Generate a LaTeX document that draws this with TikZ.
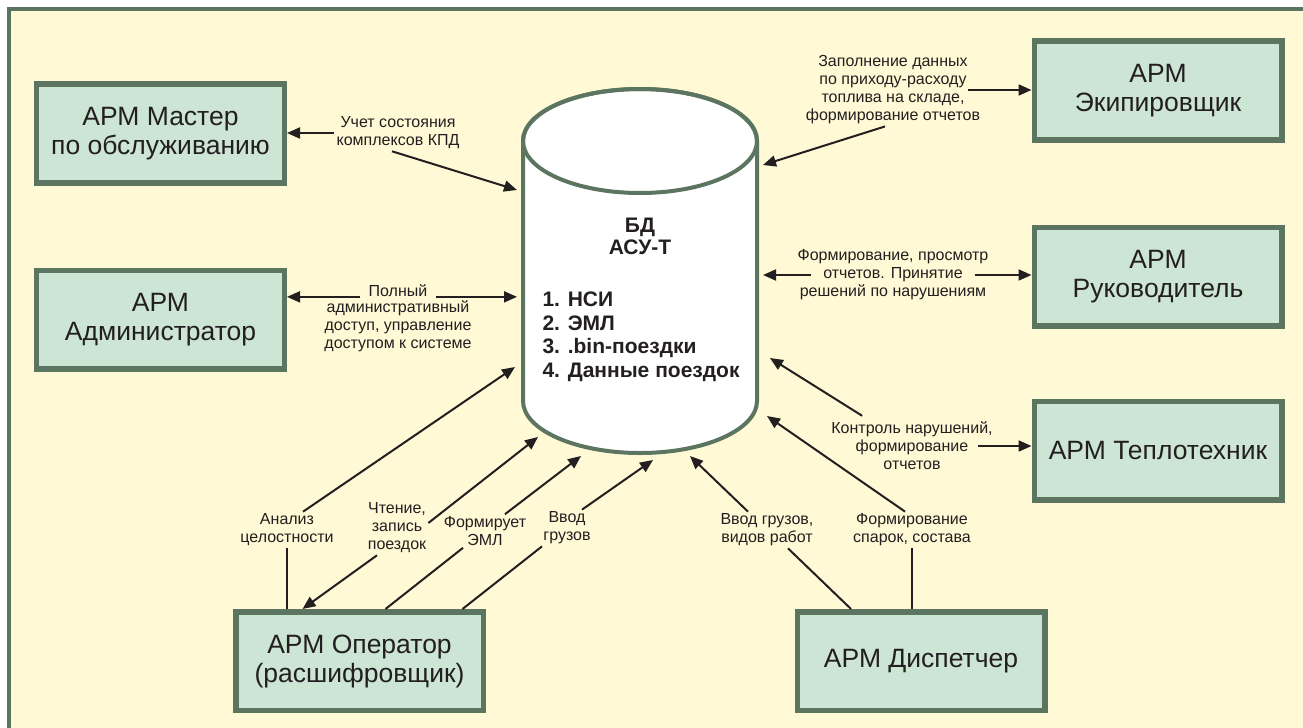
\documentclass[tikz,border=0pt]{standalone}
\usepackage{fontspec}
\setmainfont{Liberation Sans}
\usetikzlibrary{positioning,arrows.meta,calc}
\definecolor{fon}{HTML}{FFF9D5}
\definecolor{ramka}{HTML}{5B7560}
\definecolor{zaliv}{HTML}{CCE5D5}
\definecolor{chern}{HTML}{231F20}

\begin{document}
\begin{tikzpicture}[x=1bp, y=1bp, >={Triangle[length=13bp,width=11bp]},
      b/.style={draw=ramka, fill=zaliv, line width=5.5bp, minimum width=247.5bp,
                minimum height=98.5bp, align=center, text=chern,
                font=\fontsize{26.5bp}{29bp}\selectfont},
      lbl/.style={align=center, inner sep=2bp, text=chern,
                font=\fontsize{16bp}{18bp}\selectfont},
      lin/.style={draw=chern, line width=2bp}]
    \path[use as bounding box, clip] (0,0) rectangle (1303,-727);
    \fill[white] (0,0) rectangle (1303,-727);
    \fill[fon] (9,-9) rectangle (1306,-731);
    \draw[ramka, line width=4bp] (9,-9) rectangle (1304.5,-733);
    % БД
    \draw[ramka, line width=4bp, fill=white] (523,-141) -- (523,-401)
      arc[start angle=180, end angle=360, x radius=117, y radius=52] -- (757,-141)
      arc[start angle=0, end angle=180, x radius=117, y radius=52] -- cycle;
    \draw[ramka, line width=4bp] (640,-141) ellipse [x radius=117, y radius=52];
    \node[align=center, text=chern, font=\bfseries\fontsize{21bp}{22bp}\selectfont] (bd) at (640,-236) {БД\\АСУ-Т};
    \node[align=left, anchor=west, text=chern, font=\bfseries\fontsize{21bp}{23.5bp}\selectfont] (bdsp) at (539,-337)
      {1. НСИ\\2. ЭМЛ\\3. .bin-поездки\\4. Данные поездок};
    \coordinate (dbA) at (517,-190);
    \coordinate (dbB) at (517,-297);
    \coordinate (dbC) at (763,-165);
    \coordinate (dbD) at (763,-275);
    \coordinate (dbE) at (770,-358);
    \coordinate (dbF) at (767,-416);
    \coordinate (dbG) at (690,-456);
    \coordinate (dbH) at (515,-367);
    \coordinate (dbI) at (538,-437);
    \coordinate (dbJ) at (581,-456);
    \coordinate (dbK) at (653,-460);
    % АРМ
    \node[b] (mast) at (160.5,-133.5) {АРМ Мастер\\по обслуживанию};
    \node[b, below=82bp of mast] (adm) {АРМ\\Администратор};
    \node[b] (ekip) at (1158,-90.5) {АРМ\\Экипировщик};
    \node[b, below=82bp of ekip] (ruk) {АРМ\\Руководитель};
    \node[b, below=70bp of ruk] (tepl) {АРМ Теплотехник};
    \node[b] (oper) at (359.5,-661) {АРМ Оператор\\(расшифровщик)};
    \node[b] (disp) at (921,-661) {АРМ Диспетчер};
    % подписи
    \node[lbl] (lMast) at (398,-133) {Учет состояния\\комплексов КПД};
    \node[lbl, inner xsep=8bp] (lAdmA) at (398,-291) {Полный};
    \node[lbl] (lAdmB) at (398,-326) {административный\\доступ, управление\\доступом к системе};
    \node[lbl] (lEkip) at (893,-90) {Заполнение данных\\по приходу-расходу\\топлива на складе,\\формирование отчетов};
    \node[lbl] (lRuk) at (893,-275) {Формирование, просмотр\\отчетов. Принятие\\решений по нарушениям};
    \node[lbl] (lTepl) at (912,-446) {Контроль нарушений,\\формирование\\отчетов};
    \node[lbl] (lDispF) at (912,-530) {Формирование\\спарок, состава};
    \node[lbl] (lDispV) at (767,-530) {Ввод грузов,\\видов работ};
    \node[lbl] (lAnal) at (287,-530) {Анализ\\целостности};
    \node[lbl] (lRead) at (397,-528) {Чтение,\\запись\\поездок};
    \node[lbl] (lForm) at (485,-531) {Формирует\\ЭМЛ};
    \node[lbl] (lVvod) at (567,-528) {Ввод\\грузов};
    % связи
    \draw[lin, ->] (lMast.west) -- (lMast.west -| mast.east);
    \draw[lin, ->] ([xshift=-6bp]lMast.south) -- (dbA);
    \draw[lin, ->] (lAdmA.base west) -- (lAdmA.base west -| adm.east);
    \draw[lin, ->] (lAdmA.base east) -- (lAdmA.base east -| dbB);
    \draw[lin, ->] ([xshift=-14bp]lEkip.east) -- (lEkip.east -| ekip.west);
    \draw[lin, ->] ([xshift=-8bp]lEkip.south) -- (dbC);
    \draw[lin, ->] ([xshift=16bp]lRuk.west) -- (lRuk.west -| dbD);
    \draw[lin, ->] ([xshift=-16bp]lRuk.east) -- (lRuk.east -| ruk.west);
    \draw[lin, ->] ([xshift=-17bp]lTepl.east) -- (lTepl.east -| tepl.west);
    \draw[lin, ->] ([xshift=33bp,yshift=4bp]lTepl.north west) -- (dbE);
    \draw[lin] (lDispF.south |- disp.north) -- (lDispF.south);
    \draw[lin, ->] ([xshift=-7bp]lDispF.north) -- (dbF);
    \draw[lin] ([xshift=-70bp]disp.north) -- ([xshift=21bp]lDispV.south);
    \draw[lin, ->] ([xshift=-19bp]lDispV.north) -- (dbG);
    \draw[lin] (lAnal.south |- oper.north) -- (lAnal.south);
    \draw[lin, ->] ([xshift=16bp]lAnal.north) -- (dbH);
    \draw[lin, ->] ([yshift=5bp]lRead.east) -- (dbI);
    \draw[lin, ->] ([xshift=-20bp]lRead.south) -- ([xshift=-57bp]oper.north);
    \draw[lin, ->] ([xshift=20bp]lForm.north) -- (dbJ);
    \draw[lin] ([xshift=26bp]oper.north) -- ([xshift=-22bp]lForm.south);
    \draw[lin, ->] ([xshift=15bp]lVvod.north) -- (dbK);
    \draw[lin] ([xshift=103bp]oper.north) -- ([xshift=-25bp]lVvod.south);
\end{tikzpicture}
\end{document}
